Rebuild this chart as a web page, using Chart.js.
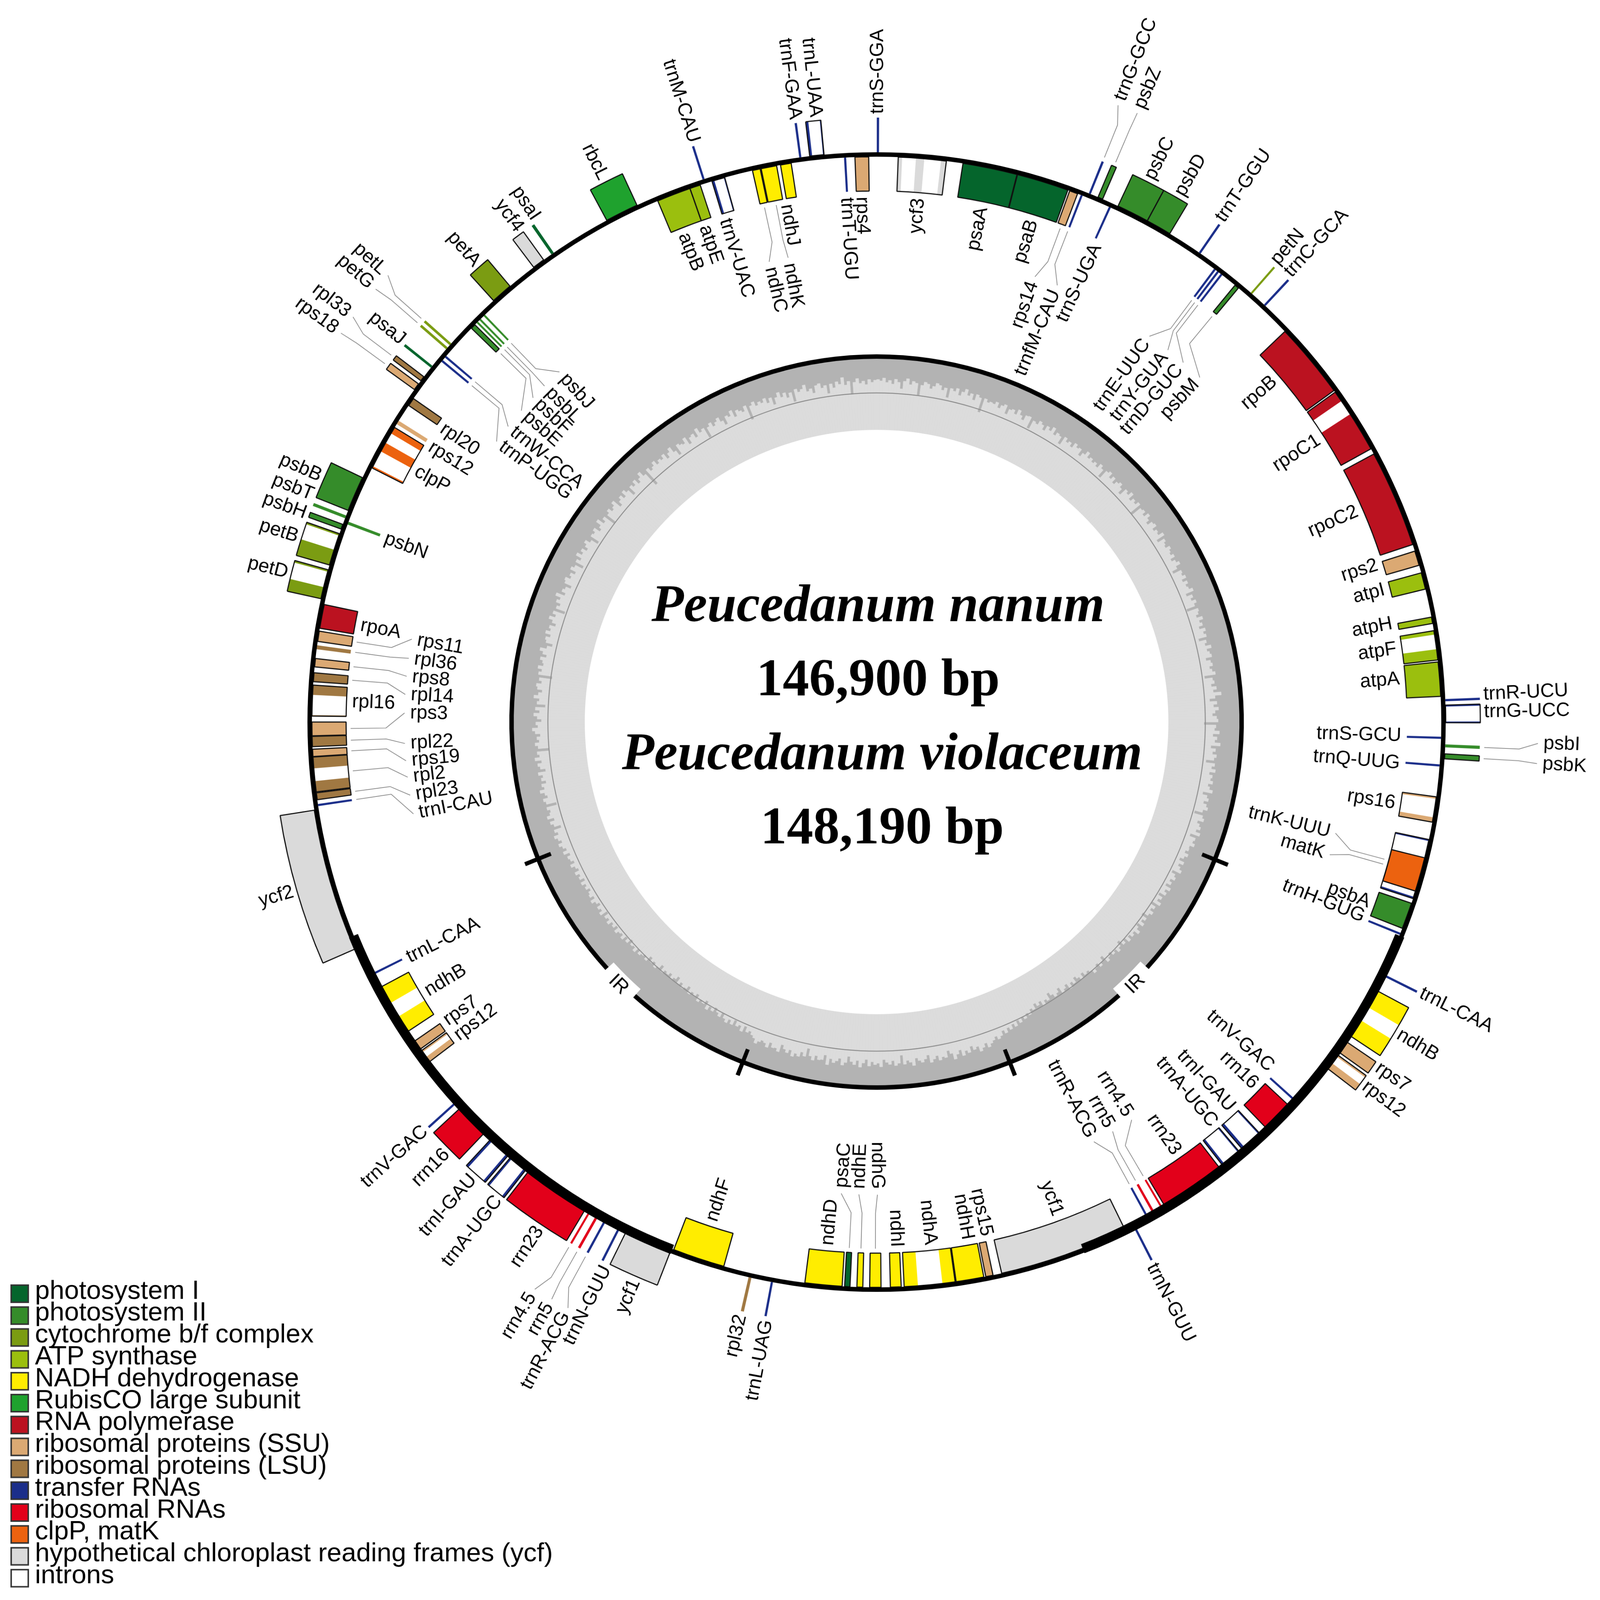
<!DOCTYPE html>
<html>
<head>
<meta charset="utf-8">
<script src="https://cdn.jsdelivr.net/npm/chart.js"></script>
<style>
  html, body { margin: 0; padding: 0; background: #fff; overflow: hidden; }
  canvas { position: absolute; left: 0; top: 0; width: 100vw; height: 100vh; }
</style>
</head>
<body>
<canvas id="gcChart" width="4304" height="4299" style="width:100vw;height:100vh"></canvas>
<canvas id="mapChart" width="4304" height="4299" style="width:100vw;height:100vh"></canvas>
<script>
// Gene rows: name, start angle, end angle (degrees clockwise from top), track (1 outside the ring, -1 inside)
const photosystemI = [
  ['psaA', 8.8, 14.4, -1], ['psaB', 14.45, 19.8, -1], ['psaC', 182.7, 183.25, -1],
  ['psaI', 325.15, 325.45, 1], ['psaJ', 308.45, 308.7, 1],
];
const photosystemII = [
  ['psbA', 108.7, 111.4, -1], ['psbB', 291.8, 295.4, 1], ['psbC', 25.1, 28.4, 1], ['psbD', 28.4, 31.0, 1],
  ['psbE', 314.15, 314.65, -1], ['psbF', 314.9, 315.1, -1], ['psbH', 289.8, 290.3, 1], ['psbI', 92.25, 92.55, 1],
  ['psbJ', 315.9, 316.1, -1], ['psbK', 93.2, 93.7, 1], ['psbL', 315.3, 315.5, -1], ['psbM', 39.4, 39.85, -1],
  ['psbN', 290.45, 290.75, -1], ['psbT', 290.95, 291.25, 1], ['psbZ', 22.9, 23.4, 1],
];
const cytochrome = [
  ['petA', 317.7, 319.9, 1], ['petB', 286.0, 289.3, 1], ['petD', 282.5, 285.5, 1],
  ['petG', 310.85, 311.1, 1], ['petL', 311.4, 311.65, 1], ['petN', 41.1, 41.3, 1],
];
const atpSynthase = [
  ['atpA', 83.9, 87.4, -1], ['atpB', 337.2, 340.7, -1], ['atpE', 340.7, 341.8, -1],
  ['atpF', 80.7, 83.7, -1], ['atpH', 79.3, 79.95, -1], ['atpI', 74.7, 76.4, -1],
];
const nadhGenes = [
  ['ndhA', 172.0, 177.2, -1], ['ndhB', 118.2, 123.5, 1], ['ndhB', 236.6, 241.9, -1], ['ndhC', 347.3, 348.1, -1],
  ['ndhD', 183.5, 187.3, -1], ['ndhE', 181.4, 182.0, -1], ['ndhF', 195.7, 201.05, -1], ['ndhG', 179.55, 180.7, -1],
  ['ndhH', 169.05, 171.9, -1], ['ndhI', 177.5, 178.6, -1], ['ndhJ', 350.2, 351.3, -1], ['ndhK', 348.2, 349.8, -1],
];
const rubisco = [['rbcL', 331.7, 335.1, 1]];
const rnaPolymerase = [
  ['rpoA', 279.55, 282.0, -1], ['rpoB', 46.3, 54.1, -1], ['rpoC1', 54.3, 61.1, -1], ['rpoC2', 61.7, 71.7, -1],
];
const ribosomalSSU = [
  ['rps2', 72.4, 73.9, -1], ['rps3', 268.6, 270.0, -1], ['rps4', 357.8, 359.2, -1], ['rps7', 124.2, 125.5, 1],
  ['rps7', 234.4, 235.4, -1], ['rps8', 275.6, 276.45, -1], ['rps11', 278.2, 279.25, -1], ['rps12', 125.8, 127.5, 1],
  ['rps12', 232.8, 234.2, -1], ['rps12', 301.8, 302.2, -1], ['rps14', 20.0, 20.85, -1], ['rps15', 168.1, 168.85, -1],
  ['rps16', 97.6, 100.2, -1], ['rps18', 305.7, 306.4, 1], ['rps19', 266.5, 267.25, -1],
];
const ribosomalLSU = [
  ['rpl2', 262.9, 266.45, -1], ['rpl14', 274.1, 275.0, -1], ['rpl16', 270.6, 273.75, -1], ['rpl20', 304.05, 304.9, -1],
  ['rpl22', 267.5, 268.55, -1], ['rpl23', 262.1, 262.8, -1], ['rpl32', 192.7, 193.0, 1], ['rpl33', 306.8, 307.3, 1],
  ['rpl36', 277.4, 277.8, -1],
];
const transferRNAs = [
  ['trnA-UGC', 139.8, 142.0, -1], ['trnA-UGC', 218.1, 220.1, 1], ['trnC-GCA', 42.89, 43.11, 1], ['trnD-GUC', 37.54, 37.76, -1],
  ['trnE-UUC', 36.69, 36.91, -1], ['trnF-GAA', 352.19, 352.41, 1], ['trnG-GCC', 21.89, 22.11, 1], ['trnG-UCC', 88.3, 90.07, 1],
  ['trnH-GUG', 111.89, 112.11, -1], ['trnI-CAU', 261.44, 261.66, -1], ['trnI-GAU', 137.0, 139.4, -1], ['trnI-GAU', 220.4, 222.8, 1],
  ['trnK-UUU', 102.0, 108.2, -1], ['trnL-CAA', 116.39, 116.61, 1], ['trnL-CAA', 243.34, 243.56, -1], ['trnL-UAA', 353.25, 354.7, 1],
  ['trnL-UAG', 190.49, 190.71, 1], ['trnM-CAU', 342.19, 342.41, 1], ['trnN-GUU', 152.79, 153.01, 1], ['trnN-GUU', 206.89, 207.11, 1],
  ['trnP-UGG', 309.59, 309.81, -1], ['trnQ-UUG', 94.29, 94.51, -1], ['trnR-ACG', 151.19, 151.41, -1], ['trnR-ACG', 208.49, 208.71, 1],
  ['trnR-UCU', 87.69, 87.91, 1], ['trnS-GCU', 91.49, 91.71, -1], ['trnS-GGA', 0.02, 0.24, 1], ['trnS-UGA', 24.29, 24.51, -1],
  ['trnT-GGU', 34.49, 34.71, 1], ['trnT-UGU', 356.69, 356.91, -1], ['trnV-GAC', 131.99, 132.21, -1], ['trnV-GAC', 227.79, 228.01, 1],
  ['trnV-UAC', 343.05, 344.4, -1], ['trnW-CCA', 310.14, 310.36, -1], ['trnY-GUA', 37.09, 37.31, -1], ['trnfM-CAU', 21.19, 21.41, -1],
];
const ribosomalRNAs = [
  ['rrn16', 132.9, 136.15, -1], ['rrn23', 142.4, 149.2, -1], ['rrn4.5', 149.45, 149.65, -1], ['rrn5', 150.4, 150.65, -1],
  ['rrn5', 209.4, 209.65, 1], ['rrn4.5', 210.3, 210.5, 1], ['rrn23', 210.9, 217.8, 1], ['rrn16', 223.7, 227.2, 1],
];
const clpMat = [['clpP', 296.7, 301.4, -1], ['matK', 103.9, 107.4, -1]];
const ycfGenes = [
  ['ycf1', 153.9, 167.2, -1], ['ycf1', 201.3, 206.2, 1], ['ycf2', 246.5, 261.1, 1], ['ycf3', 2.2, 7.1, -1], ['ycf4', 322.95, 324.2, 1],
];

const intronSpans = [
  [2.6, 4.0], [4.85, 6.55], [55.4, 57.0], [81.1, 82.6], [88.45, 89.95], [97.8, 99.7], [102.15, 108.0],
  [120.1, 121.6], [126.0, 126.8], [137.15, 139.1], [139.95, 141.75], [173.3, 175.8], [218.35, 219.9],
  [220.65, 222.55], [233.4, 234.0], [238.4, 240.0], [264.0, 265.3], [270.7, 272.75], [283.7, 285.3],
  [287.6, 289.1], [296.9, 298.6], [299.6, 300.7], [343.3, 344.3], [353.5, 354.6],
];

// name, label angle, 1 if the label sits further off on a grey leader line
const labelRows = [
  ['trnS-GGA', 0.1], ['ycf3', 4.6], ['psaA', 11.6], ['psaB', 17.3], ['rps14', 19.6, 1], ['trnG-GCC', 21.4, 1], ['trnfM-CAU', 22.5, 1],
  ['psbZ', 23.2, 1], ['trnS-UGA', 24.8], ['psbC', 26.7], ['psbD', 29.9], ['trnT-GGU', 34.4], ['trnE-UUC', 35.3, 1], ['trnY-GUA', 38.1, 1],
  ['trnD-GUC', 40.5, 1], ['petN', 40.9], ['trnC-GCA', 42.6], ['psbM', 43.2, 1], ['rpoB', 49.3], ['rpoC1', 57.4], ['rpoC2', 66.3],
  ['rps2', 72.6], ['atpI', 75.4], ['atpH', 79.2], ['atpF', 82.0], ['atpA', 85.3], ['trnR-UCU', 87.4], ['trnG-UCC', 89.05],
  ['trnS-GCU', 91.5], ['psbI', 91.85, 1], ['psbK', 93.6, 1], ['trnQ-UUG', 94.5], ['rps16', 98.9], ['trnK-UUU', 103.6, 1], ['matK', 106.3, 1],
  ['psbA', 110.1], ['trnH-GUG', 111.8], ['trnL-CAA', 116.4], ['ndhB', 120.8], ['rps7', 124.5], ['rps12', 126.6], ['trnV-GAC', 131.2],
  ['rrn16', 133.8], ['trnI-GAU', 137.4], ['trnA-UGC', 140.0], ['rrn23', 145.1], ['rrn4.5', 147.3, 1], ['rrn5', 150.0, 1], ['trnR-ACG', 152.6, 1],
  ['trnN-GUU', 153.1], ['ycf1', 159.8], ['rps15', 167.9], ['ndhH', 170.0], ['ndhA', 174.1], ['ndhI', 177.8], ['ndhG', 179.9, 1],
  ['ndhE', 182.15, 1], ['psaC', 184.3, 1], ['ndhD', 185.35], ['trnL-UAG', 190.4], ['rpl32', 192.9], ['ndhF', 198.3], ['ycf1', 203.4],
  ['trnN-GUU', 206.4], ['trnR-ACG', 207.8, 1], ['rrn5', 209.4, 1], ['rrn4.5', 211.1, 1], ['rrn23', 213.7], ['trnA-UGC', 218.5], ['trnI-GAU', 221.6],
  ['rrn16', 225.05], ['trnV-GAC', 228.0], ['rps12', 233.2], ['rps7', 235.25], ['ndhB', 239.1], ['trnL-CAA', 243.3], ['ycf2', 253.8],
  ['trnI-CAU', 258.8, 1], ['rpl23', 261.1, 1], ['rpl2', 263.3, 1], ['rps19', 265.3, 1], ['rpl22', 267.4, 1], ['rps3', 271.1, 1], ['rpl16', 272.2],
  ['rpl14', 273.35, 1], ['rps8', 275.55, 1], ['rpl36', 277.75, 1], ['rps11', 280.1, 1], ['rpoA', 280.6], ['petD', 284.2], ['petB', 287.7],
  ['psbH', 290.05], ['psbN', 290.5], ['psbT', 291.9], ['psbB', 293.8], ['clpP', 298.6], ['rps12', 301.7], ['rpl20', 304.1], ['rps18', 305.95, 1],
  ['trnP-UGG', 306.4, 1], ['rpl33', 307.7, 1], ['trnW-CCA', 308.7, 1], ['psaJ', 308.8], ['petG', 310.8, 1], ['psbE', 311.2, 1], ['petL', 312.4, 1],
  ['psbF', 313.3, 1], ['psbL', 315.3, 1], ['psbJ', 317.8, 1], ['petA', 318.85], ['ycf4', 324.0], ['psaI', 325.9], ['rbcL', 333.3],
  ['atpB', 338.4], ['atpE', 340.85], ['trnM-CAU', 342.5], ['trnV-UAC', 343.2], ['ndhC', 346.85, 1], ['ndhK', 349.2, 1], ['ndhJ', 350.1],
  ['trnF-GAA', 352.3], ['trnL-UAA', 354.25], ['trnT-UGU', 356.7], ['rps4', 358.4],
];

const legendLabels = [
  'photosystem I', 'photosystem II', 'cytochrome b/f complex', 'ATP synthase', 'NADH dehydrogenase',
  'RubisCO large subunit', 'RNA polymerase', 'ribosomal proteins (SSU)', 'ribosomal proteins (LSU)',
  'transfer RNAs', 'ribosomal RNAs', 'clpP, matK', 'hypothetical chloroplast reading frames (ycf)', 'introns',
];
const legendColours = [
  '#05652c', '#358c2a', '#7b9c12', '#9bbf0e', '#ffed00', '#1fa22e', '#bb1220',
  '#dba973', '#a07842', '#1b2e8a', '#e2001a', '#ec620f', '#dadada', '#ffffff',
];
const geneGroups = [
  photosystemI, photosystemII, cytochrome, atpSynthase, nadhGenes, rubisco, rnaPolymerase,
  ribosomalSSU, ribosomalLSU, transferRNAs, ribosomalRNAs, clpMat, ycfGenes,
];

const titleLines = ['Peucedanum nanum', '146,900 bp', 'Peucedanum violaceum', '148,190 bp'];

// Boundaries of the quadrants and of the inverted repeats, degrees
const quadrantTicks = [112.1, 158.6, 201.5, 248.0];
const thickRingSpans = [[112.2, 158.6], [201.2, 247.8]];
const irLabelSpans = [[132.2, 138.4], [221.5, 227.6]];

// GC content per 0.5 degree, percent
const gcPercent = [
  29,31,27,33,30,35,28,32,41,30,26,34,29,31,48,33,28,30,36,32,27,29,35,31,44,30,33,28,37,31,26,34,30,38,29,32,52,31,35,33,
  34,30,37,32,29,41,33,31,36,28,34,39,31,30,46,33,35,29,32,38,30,34,27,36,31,33,43,30,35,32,37,29,33,31,40,34,28,35,32,36,
  33,37,30,34,45,32,29,36,31,38,33,30,35,42,31,34,28,37,32,35,30,48,33,31,36,29,34,39,32,30,37,33,35,28,41,31,34,36,30,33,
  35,31,38,33,29,36,44,32,34,30,37,31,35,33,28,40,32,36,30,34,47,31,33,37,29,35,32,38,30,34,31,43,33,36,28,35,32,30,39,33,
  31,36,33,29,45,34,32,37,30,35,24,33,41,31,36,29,34,38,32,30,50,33,35,28,37,31,34,26,39,32,36,30,33,44,31,35,29,37,32,34,
  30,36,33,28,41,34,31,37,32,29,35,46,33,30,38,34,31,36,29,42,33,35,31,37,36,40,34,38,43,35,41,37,33,45,39,36,42,38,44,35,
  41,37,46,39,43,36,48,40,44,38,42,50,41,45,39,47,43,37,44,41,46,40,48,43,52,45,41,47,44,50,46,42,54,48,44,51,47,43,49,52,
  50,55,48,53,57,50,54,47,56,52,49,58,53,50,55,60,51,54,48,56,52,57,50,53,46,50,44,48,42,47,40,45,39,43,37,42,36,33,38,34,
  31,27,34,29,25,33,30,36,28,32,26,35,30,24,33,38,29,31,27,34,30,26,37,32,28,31,35,25,30,33,28,41,30,27,34,29,32,36,26,31,
  29,33,27,36,31,25,34,28,32,39,30,26,35,31,28,33,24,37,30,29,34,27,32,42,30,35,28,31,26,34,29,33,38,27,31,30,36,28,33,35,
  32,28,34,37,41,38,45,36,43,40,47,39,44,38,42,48,41,45,50,43,47,41,52,46,49,44,53,48,51,46,55,50,47,53,49,57,52,48,54,50,
  52,47,55,49,45,51,47,53,44,49,46,43,48,41,46,44,50,42,47,40,45,43,39,46,41,44,38,43,40,47,37,42,39,45,41,36,43,38,40,44,
  39,42,37,44,38,41,36,43,40,35,42,38,36,41,33,39,35,31,37,33,29,36,32,43,34,30,37,28,33,35,31,46,32,29,36,33,27,34,31,38,
  32,35,29,40,33,30,36,27,34,31,48,33,29,35,32,37,30,26,34,31,39,33,28,36,30,44,32,35,27,33,38,31,29,36,32,50,30,34,28,35,
  33,29,37,31,26,35,42,32,30,36,28,34,31,39,33,27,35,30,46,32,36,29,33,25,37,31,34,41,30,28,35,32,38,29,33,44,31,36,27,34,
  30,37,32,28,35,45,31,33,29,38,34,26,36,31,48,33,29,35,32,27,40,34,30,36,28,33,43,31,35,29,37,32,26,34,55,30,36,33,28,35,
  31,34,29,38,32,27,36,44,30,33,35,28,40,32,30,37,26,34,31,47,33,29,36,32,28,35,42,31,34,27,38,30,33,36,29,51,32,28,35,31,
  34,29,37,31,42,33,27,35,30,38,32,46,29,34,31,26,36,33,40,30,28,35,32,44,31,37,29,33,24,35,30,49,32,27,34,31,36,29,33,30,
];

const genes = geneGroups.flatMap((rows, g) => rows.map(([name, start, end, track]) => (
  { name, start, end, track, colour: legendColours[g] }
)));

// A gene minus its introns; matK sits inside the trnK intron and is not cut by it
function exonsOf(gene) {
  const parts = [];
  let pos = gene.start;
  intronSpans
    .filter(([a, b]) => a >= gene.start && b <= gene.end)
    .forEach(([a, b]) => { parts.push([pos, a]); pos = b; });
  parts.push([pos, gene.end]);
  return parts;
}

// Spans may not overlap inside one doughnut dataset, so split them over as many as needed
function toLayers(spans) {
  const layers = [];
  [...spans].sort((a, b) => a.start - b.start).forEach(s => {
    const layer = layers.find(l => l[l.length - 1].end <= s.start);
    if (layer) layer.push(s); else layers.push([s]);
  });
  return layers;
}

function ringDataset(spans, band, fill, border, borderWidth) {
  const ds = { band, data: [], backgroundColor: [], borderColor: [], borderWidth: [] };
  const push = (value, bg, line, width) => {
    ds.data.push(value);
    ds.backgroundColor.push(bg);
    ds.borderColor.push(line);
    ds.borderWidth.push(width);
  };
  let pos = 0;
  spans.forEach(s => {
    if (s.start > pos) push(s.start - pos, 'transparent', 'transparent', 0);
    push(s.end - s.start, s.colour || fill, border, borderWidth);
    pos = s.end;
  });
  if (pos < 360) push(360 - pos, 'transparent', 'transparent', 0);
  return ds;
}

const spansFrom = list => list.map(([start, end]) => ({ start, end }));
const BANDS = { 1: [1531, 1624], [-1]: [1427, 1519] };
const datasets = [];

datasets.push(ringDataset(spansFrom(quadrantTicks.map(t => [t - 0.32, t + 0.32])), [945, 1020], '#000', 'transparent', 0));
datasets.push(ringDataset(spansFrom(thickRingSpans), [1507, 1533], '#000', 'transparent', 0));
datasets.push(ringDataset([{ start: 0, end: 360 }], [1519, 1531], '#000', 'transparent', 0));

[1, -1].forEach(track => {
  // small genes are plain coloured strokes, larger ones carry a black outline
  const boxes = genes.filter(g => g.track === track && g.end - g.start >= 0.45);
  toLayers(boxes.map(g => ({ start: g.start, end: g.end, colour: 'transparent' })))
    .forEach(layer => datasets.push(ringDataset(layer, BANDS[track], 'transparent', '#111', 3)));
});
[1, -1].forEach(track => {
  const exons = genes.filter(g => g.track === track)
    .flatMap(g => exonsOf(g).map(([start, end]) => ({ start, end, colour: g.colour })));
  toLayers(exons).forEach(layer => datasets.push(ringDataset(layer, BANDS[track], '#000', 'transparent', 0)));
});

datasets.push(ringDataset([{ start: 0, end: 360 }], [883, 885.5], '#8c8c8c', 'transparent', 0));
// black circle round the GC plot, broken where the IR labels sit
const ringGaps = irLabelSpans.flat();
datasets.push(ringDataset(spansFrom([[0, ringGaps[0]], [ringGaps[1], ringGaps[2]], [ringGaps[3], 360]]), [976, 988], '#000', 'transparent', 0));
datasets.push(ringDataset(spansFrom(irLabelSpans), [958, 992], '#fff', 'transparent', 0));
datasets.push(ringDataset([{ start: 0, end: 360 }], [0, 785], '#fff', 'transparent', 0));

// Each dataset has its own radial band, they overlap so ring weights can't express it
const ringBands = {
  id: 'ringBands',
  afterDatasetsUpdate(chart) {
    chart.data.datasets.forEach((ds, i) => {
      chart.getDatasetMeta(i).data.forEach(arc => {
        arc.innerRadius = ds.band[0];
        arc.outerRadius = ds.band[1];
      });
    });
  },
};

const angleGap = (a, b) => Math.abs(((a - b + 540) % 360) - 180);

const mapText = {
  id: 'mapText',
  afterDraw(chart) {
    const ctx = chart.ctx;
    const centre = chart.getDatasetMeta(0).data[0];
    const cx = centre.x, cy = centre.y;
    const at = (deg, r) => {
      const t = deg * Math.PI / 180;
      return [cx + r * Math.sin(t), cy - r * Math.cos(t)];
    };

    ctx.save();
    ctx.textBaseline = 'middle';
    ctx.fillStyle = '#000';
    ctx.font = '52px "Liberation Sans"';
    labelRows.forEach(([name, angle, leader]) => {
      const gene = genes.filter(g => g.name === name)
        .sort((a, b) => angleGap((a.start + a.end) / 2, angle) - angleGap((b.start + b.end) / 2, angle))[0];
      const mid = (gene.start + gene.end) / 2;
      const outer = gene.track === 1;
      const r = leader ? (outer ? 1795 : 1255) : (outer ? 1634 : 1412);
      if (leader) {
        const path = outer
          ? [at(mid, 1636), at(mid, 1730), at(angle, r - 15)]
          : [at(mid, 1415), at(mid, 1320), at(angle, r + 15)];
        ctx.beginPath();
        path.forEach(([x, y], i) => (i ? ctx.lineTo(x, y) : ctx.moveTo(x, y)));
        ctx.strokeStyle = '#8a8a8a';
        ctx.lineWidth = 2;
        ctx.stroke();
      }
      const [x, y] = at(angle, r);
      const rightHalf = angle < 180;
      ctx.save();
      ctx.translate(x, y);
      ctx.rotate((rightHalf ? angle - 90 : angle + 90) * Math.PI / 180);
      ctx.textAlign = rightHalf === outer ? 'left' : 'right';
      ctx.fillText(name, 0, 0);
      ctx.restore();
    });

    // IR labels follow the circle
    irLabelSpans.forEach(([a, b]) => {
      const angle = (a + b) / 2;
      const [x, y] = at(angle, 990);
      ctx.save();
      ctx.translate(x, y);
      ctx.rotate((angle - 180) * Math.PI / 180);
      ctx.textAlign = 'center';
      ctx.fillText('IR', 0, 0);
      ctx.restore();
    });

    // the two lower lines sit a little right of the upper two in the figure
    ctx.textAlign = 'center';
    titleLines.forEach((line, i) => {
      ctx.font = (i % 2 ? 'bold' : 'italic bold') + ' 142px "Liberation Serif"';
      ctx.fillText(line, cx + (i < 2 ? 4 : 15), cy - 308 + i * 199);
    });

    ctx.textAlign = 'left';
    ctx.font = '71px "Liberation Sans"';
    legendLabels.forEach((label, i) => {
      const top = 3453 + i * 58.8;
      ctx.fillStyle = legendColours[i];
      ctx.fillRect(30, top, 46, 46);
      ctx.strokeStyle = '#333';
      ctx.lineWidth = 4;
      ctx.strokeRect(30, top, 46, 46);
      ctx.fillStyle = '#000';
      ctx.fillText(label, 94, top + 17);
    });
    ctx.restore();
  },
};

Chart.defaults.font.family = '"Liberation Sans"';

// GC plot: light wedges over a dark disc, 976 px maps to 100 and the centre to -411
new Chart(document.getElementById('gcChart').getContext('2d'), {
  type: 'polarArea',
  data: {
    labels: gcPercent.map((_, i) => i / 2),
    datasets: [
      { data: gcPercent.map(v => 100 - v), backgroundColor: '#dcdcdc', borderColor: '#dcdcdc', borderWidth: 1 },
      { data: [100], backgroundColor: '#b3b3b3', borderColor: '#b3b3b3', borderWidth: 1 },
    ],
  },
  options: {
    responsive: false,
    devicePixelRatio: 1,
    animation: false,
    layout: { padding: { left: 1382, right: 970, top: 964, bottom: 1383 } },
    plugins: { legend: { display: false }, tooltip: { enabled: false } },
    scales: { r: { display: false, min: -411, max: 100, startAngle: 0 } },
  },
});

new Chart(document.getElementById('mapChart').getContext('2d'), {
  type: 'doughnut',
  data: { datasets },
  options: {
    responsive: false,
    devicePixelRatio: 1,
    animation: false,
    layout: { padding: { left: 658, right: 246, top: 240, bottom: 659 } },
    plugins: { legend: { display: false }, tooltip: { enabled: false } },
  },
  plugins: [ringBands, mapText],
});
</script>
</body>
</html>
